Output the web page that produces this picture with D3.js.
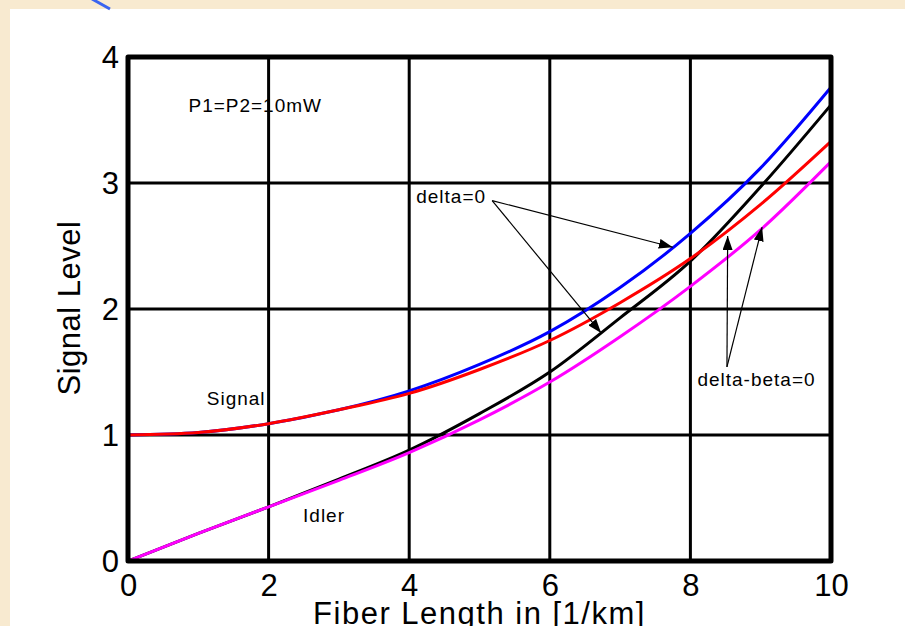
<!DOCTYPE html>
<html>
<head>
<meta charset="utf-8">
<script src="https://cdn.jsdelivr.net/npm/d3@7"></script>
<style>
  html, body { margin: 0; padding: 0; background: #f8ead0; }
  svg { display: block; font-family: "Liberation Sans", Arial, sans-serif; }
</style>
</head>
<body>
<div id="chart"></div>
<script>
// fiber length samples [1/km]
const fiberLength = [0, 1, 2, 3, 4, 5, 6, 7, 8, 9, 10];

// signal / idler levels
const signalDelta0 = [1.0, 1.02, 1.09, 1.2, 1.35, 1.56, 1.82, 2.17, 2.6, 3.12, 3.76];
const idlerDelta0 = [0, 0.22, 0.43, 0.65, 0.88, 1.17, 1.5, 1.93, 2.38, 2.97, 3.62];
const signalDeltaBeta0 = [1.0, 1.02, 1.09, 1.2, 1.33, 1.52, 1.75, 2.05, 2.4, 2.83, 3.33];
const idlerDeltaBeta0 = [0, 0.22, 0.43, 0.64, 0.86, 1.12, 1.42, 1.78, 2.18, 2.63, 3.17];

const xTicks = [0, 2, 4, 6, 8, 10];
const yTicks = [0, 1, 2, 3, 4];

const seriesList = [
  { name: "signal delta=0", values: signalDelta0, color: "#0000ff" },
  { name: "idler delta=0", values: idlerDelta0, color: "#000000" },
  { name: "signal delta-beta=0", values: signalDeltaBeta0, color: "#ff0000" },
  { name: "idler delta-beta=0", values: idlerDeltaBeta0, color: "#ff00ff" },
];

// text notes, in data units (x, y = left/baseline)
const notes = [
  { text: "P1=P2=10mW", x: 0.86, y: 3.56 },
  { text: "delta=0", x: 4.1, y: 2.84 },
  { text: "delta-beta=0", x: 8.1, y: 1.39 },
  { text: "Signal", x: 1.12, y: 1.24 },
  { text: "Idler", x: 2.49, y: 0.31 },
];

// arrows: from -> to, data units
const arrows = [
  { x1: 5.18, y1: 2.86, x2: 7.75, y2: 2.49 },
  { x1: 5.18, y1: 2.86, x2: 6.73, y2: 1.81 },
  { x1: 8.52, y1: 1.54, x2: 8.53, y2: 2.58 },
  { x1: 8.52, y1: 1.54, x2: 9.02, y2: 2.65 },
];

const width = 905;
const height = 626;
const margin = { top: 57, right: 74, bottom: 65, left: 128 };

const svg = d3.select("#chart")
  .append("svg")
  .attr("width", width)
  .attr("height", height);

// slide background + white panel
svg.append("rect").attr("width", width).attr("height", height).attr("fill", "#f8ead0");
svg.append("rect").attr("x", 10).attr("y", 9).attr("width", width - 10).attr("height", height - 9).attr("fill", "#ffffff");
svg.append("line")
  .attr("x1", 92).attr("y1", -1).attr("x2", 110).attr("y2", 9)
  .attr("stroke", "#3a64f0").attr("stroke-width", 3);

const xScale = d3.scaleLinear().domain([0, 10]).range([margin.left, width - margin.right]);
const yScale = d3.scaleLinear().domain([0, 4]).range([height - margin.bottom, margin.top]);

// grid
const grid = svg.append("g").attr("stroke", "#000").attr("stroke-width", 3);
grid.selectAll("line.vx")
  .data(xTicks.slice(1, -1))
  .enter()
  .append("line")
  .attr("x1", (d) => xScale(d))
  .attr("x2", (d) => xScale(d))
  .attr("y1", yScale(4))
  .attr("y2", yScale(0));
grid.selectAll("line.hy")
  .data(yTicks.slice(1, -1))
  .enter()
  .append("line")
  .attr("x1", xScale(0))
  .attr("x2", xScale(10))
  .attr("y1", (d) => yScale(d))
  .attr("y2", (d) => yScale(d));

// curves
const line = d3.line()
  .x((d, i) => xScale(fiberLength[i]))
  .y((d) => yScale(d))
  .curve(d3.curveMonotoneX);

svg.append("g")
  .selectAll("path")
  .data(seriesList)
  .enter()
  .append("path")
  .attr("fill", "none")
  .attr("stroke", (d) => d.color)
  .attr("stroke-width", 3)
  .attr("stroke-linejoin", "round")
  .attr("d", (d) => line(d.values));

// frame
svg.append("rect")
  .attr("x", xScale(0))
  .attr("y", yScale(4))
  .attr("width", xScale(10) - xScale(0))
  .attr("height", yScale(0) - yScale(4))
  .attr("fill", "none")
  .attr("stroke", "#000")
  .attr("stroke-width", 5)
  .attr("stroke-linejoin", "round");

// axes (labels only)
const xAxis = d3.axisBottom(xScale).tickValues(xTicks).tickSize(0).tickPadding(13).tickFormat(d3.format("d"));
const yAxis = d3.axisLeft(yScale).tickValues(yTicks).tickSize(0).tickPadding(9).tickFormat(d3.format("d"));

const gx = svg.append("g").attr("transform", `translate(0, ${yScale(0)})`).call(xAxis);
const gy = svg.append("g").attr("transform", `translate(${xScale(0)}, 0)`).call(yAxis);
[gx, gy].forEach((g) => {
  g.select(".domain").remove();
  g.selectAll("text")
    .attr("fill", "#000")
    .style("font-size", "31px")
    .style("font-family", "Liberation Sans, Arial, sans-serif");
});
gx.selectAll("text").attr("dy", "0.71em");
gy.selectAll("text").attr("dy", "0.35em");

svg.append("text")
  .attr("x", (xScale(0) + xScale(10)) / 2)
  .attr("y", 624)
  .attr("text-anchor", "middle")
  .style("font-size", "31px")
  .style("letter-spacing", "1.5px")
  .text("Fiber Length in [1/km]");

svg.append("text")
  .attr("transform", "rotate(-90)")
  .attr("x", -308)
  .attr("y", 80)
  .attr("text-anchor", "middle")
  .style("font-size", "31px")
  .style("letter-spacing", "0.5px")
  .text("Signal Level");

// notes
svg.append("g")
  .selectAll("text")
  .data(notes)
  .enter()
  .append("text")
  .attr("x", (d) => xScale(d.x))
  .attr("y", (d) => yScale(d.y))
  .style("font-size", "19px")
  .style("letter-spacing", "1px")
  .text((d) => d.text);

// arrowheads
svg.append("defs")
  .append("marker")
  .attr("id", "head")
  .attr("viewBox", "0 0 14 10")
  .attr("refX", 14)
  .attr("refY", 5)
  .attr("markerWidth", 14)
  .attr("markerHeight", 10)
  .attr("markerUnits", "userSpaceOnUse")
  .attr("orient", "auto")
  .append("path")
  .attr("d", "M0,0 L14,5 L0,10 Z")
  .attr("fill", "#000");

svg.append("g")
  .selectAll("line")
  .data(arrows)
  .enter()
  .append("line")
  .attr("x1", (d) => xScale(d.x1))
  .attr("y1", (d) => yScale(d.y1))
  .attr("x2", (d) => xScale(d.x2))
  .attr("y2", (d) => yScale(d.y2))
  .attr("stroke", "#000")
  .attr("stroke-width", 1.2)
  .attr("marker-end", "url(#head)");
</script>
</body>
</html>
